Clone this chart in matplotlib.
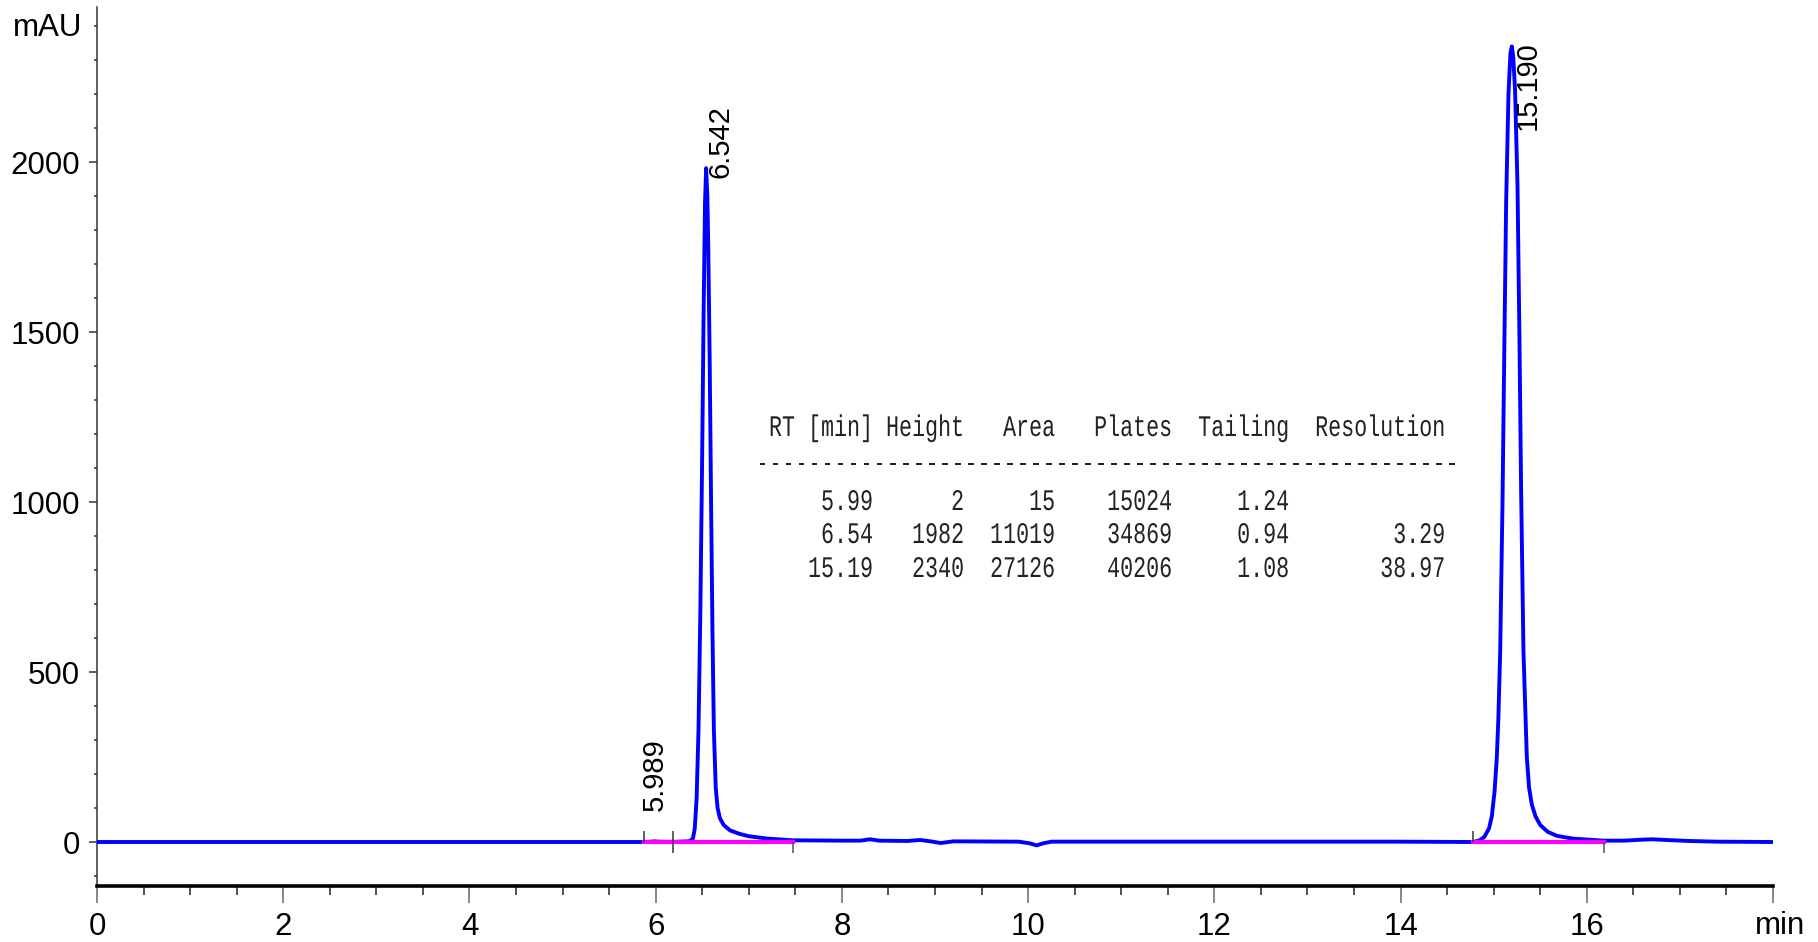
import matplotlib
matplotlib.use('Agg')
import matplotlib.pyplot as plt
from matplotlib.ticker import MultipleLocator
from matplotlib.textpath import TextPath
from matplotlib.patches import PathPatch
from matplotlib.font_manager import FontProperties
import matplotlib.transforms as mtransforms

plt.rcParams['font.family'] = ['Liberation Sans', 'DejaVu Sans']

# chromatogram trace (min, mAU)
time = [0.0, 5.87, 5.95, 5.989, 6.03, 6.19, 6.36, 6.40, 6.42, 6.44, 6.46, 6.48,
        6.50, 6.515, 6.53, 6.542, 6.555, 6.565, 6.58, 6.595, 6.61, 6.625, 6.645,
        6.665, 6.69, 6.73, 6.80, 6.90, 7.00, 7.20, 7.48, 8.0, 8.2, 8.3, 8.4,
        8.7, 8.84, 8.95, 9.06, 9.2, 9.9, 10.02, 10.09, 10.16, 10.25, 11.0, 12.0,
        13.0, 14.0, 14.78, 14.85, 14.90, 14.95, 14.98, 15.01, 15.034, 15.05,
        15.07, 15.095, 15.113, 15.134, 15.159, 15.18, 15.195, 15.21, 15.23,
        15.256, 15.277, 15.295, 15.32, 15.356, 15.38, 15.41, 15.45, 15.50,
        15.58, 15.68, 15.85, 16.07, 16.18, 16.4, 16.6, 16.71, 16.85, 17.1,
        17.4, 18.0]
mau = [0, 0, 1, 2, 1, 0.5, 2, 10, 40, 130, 330, 680,
       1150, 1560, 1880, 1982, 1900, 1750, 1420, 1000, 620, 330, 160,
       100, 70, 50, 34, 24, 17, 10, 5, 4, 4, 8, 4,
       3, 6, 2, -3, 2, 1, -4, -10, -4, 1, 1, 1,
       1, 1, 0, 5, 15, 40, 75, 150, 250, 360,
       560, 1000, 1420, 1880, 2200, 2320, 2340, 2310, 2210,
       1930, 1480, 1030, 560, 250, 160, 110, 75, 50,
       30, 18, 10, 6, 4, 4, 7, 8, 6, 3,
       1, 0]

# peak labels
peak_rt = [5.989, 6.542, 15.190]
peak_height = [2, 1982, 2340]

# integration events
baseline_start = [5.87, 14.78]
baseline_end = [7.48, 16.18]
drop_lines = [6.19]

# results table
tbl_rt = [5.99, 6.54, 15.19]
tbl_height = [2, 1982, 2340]
tbl_area = [15, 11019, 27126]
tbl_plates = [15024, 34869, 40206]
tbl_tailing = [1.24, 0.94, 1.08]
tbl_resolution = [None, 3.29, 38.97]

x_ticks = [0, 2, 4, 6, 8, 10, 12, 14, 16, 18]
x_labels = ['0', '2', '4', '6', '8', '10', '12', '14', '16', '']
y_ticks = [0, 500, 1000, 1500, 2000]

W, H = 1818, 942
fig = plt.figure(figsize=(W / 100, H / 100), dpi=100)
ax = fig.add_axes([97 / W, 56 / H, 1676 / W, 879 / H])

ax.plot(time, mau, color='#0000ff', lw=2.8, solid_joinstyle='round', zorder=3)

for s, e in zip(baseline_start, baseline_end):
    ax.plot([s, e], [0, 0], color='#ff00ff', lw=3.0, zorder=4)
ax.vlines(baseline_start, 0, 33, color='#333333', lw=1.1, zorder=5)
ax.vlines(baseline_end, -33, 0, color='#555555', lw=1.1, zorder=5)
ax.vlines(drop_lines, -33, 33, color='#333333', lw=1.1, zorder=5)

# retention time labels
ax.annotate(f'{peak_rt[0]:.3f}', (peak_rt[0], peak_height[0]), xytext=(0, 22),
            textcoords='offset points', rotation=90, ha='center', va='bottom',
            fontsize=21)
ax.annotate(f'{peak_rt[1]:.3f}', (peak_rt[1], peak_height[1]), xytext=(0, -7),
            textcoords='offset points', rotation=90, ha='left', va='bottom',
            fontsize=21)
ax.annotate(f'{peak_rt[2]:.3f}', (peak_rt[2], peak_height[2]), xytext=(2, 4),
            textcoords='offset points', rotation=90, ha='left', va='top',
            fontsize=21)

# table, monospace glyphs stretched vertically like the instrument report
lines = [' RT [min] Height   Area   Plates  Tailing  Resolution', '-' * 54]
for rt, h, a, p, t, r in zip(tbl_rt, tbl_height, tbl_area, tbl_plates,
                              tbl_tailing, tbl_resolution):
    row = f' {rt:8.2f}{h:7d}{a:7d}{p:9d}{t:9.2f}'
    if r is not None:
        row += f'{r:12.2f}'
    lines.append(row)
baseline_px = [436, 472, 510, 543, 577]
mono = FontProperties(family='Liberation Mono')
for txt, yy in zip(lines, baseline_px):
    tp = TextPath((0, 0), txt, size=21.67, prop=mono)
    tr = mtransforms.Affine2D().scale(1.0, 1.38).translate(756, H - yy)
    tr = tr + mtransforms.Affine2D().scale(1 / W, 1 / H) + fig.transFigure
    fig.patches.append(PathPatch(tp, transform=tr, facecolor='#222222',
                                 edgecolor='none', figure=fig))

ax.set_xlim(0, 18)
ax.set_ylim(-129.4, 2456)

ax.spines['top'].set_visible(False)
ax.spines['right'].set_visible(False)
ax.spines['left'].set_linewidth(1.1)
ax.spines['left'].set_color('#333333')
ax.spines['bottom'].set_linewidth(2.6)

ax.set_xticks(x_ticks)
ax.set_xticklabels(x_labels)
ax.xaxis.set_minor_locator(MultipleLocator(0.5))
ax.set_yticks(y_ticks)
ax.yaxis.set_minor_locator(MultipleLocator(100))

ax.tick_params(axis='x', which='major', direction='out', length=12, width=1.1,
               color='#666666', labelsize=22.5, pad=7)
ax.tick_params(axis='x', which='minor', direction='out', length=6.5, width=1.1,
               color='#222222')
ax.tick_params(axis='y', which='major', direction='out', length=6, width=1.1,
               color='#333333', labelsize=22.5, pad=6)
ax.tick_params(axis='y', which='minor', direction='out', length=2.5, width=1.1,
               color='#333333')

ax.text(-0.009, (886 - 28) / 879, 'mAU', transform=ax.transAxes, fontsize=22.5,
        ha='right', va='center')
ax.annotate('min', (18, 0), xycoords=('data', 'axes fraction'), xytext=(5, -29),
            textcoords='offset points', ha='center', va='center', fontsize=22.5)

fig.savefig('out.png', dpi=100)
